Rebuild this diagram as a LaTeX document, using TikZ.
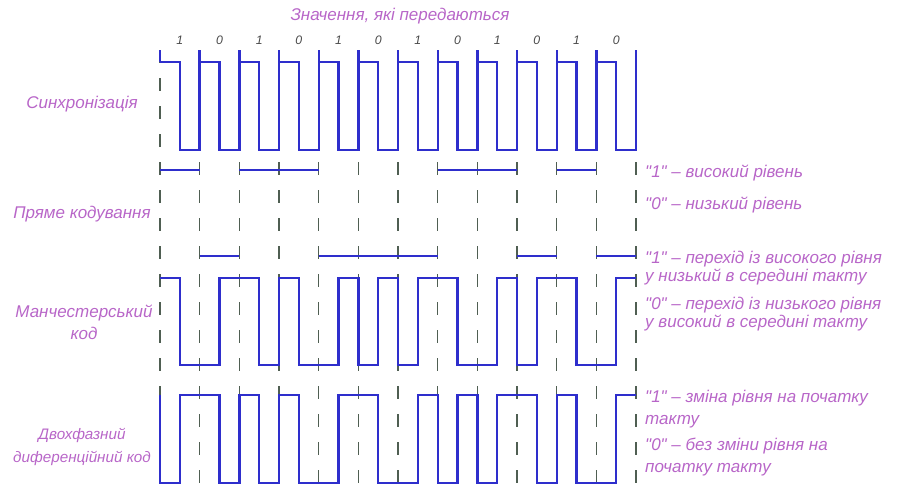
\documentclass[tikz,border=0pt]{standalone}
\usepackage{fontspec}
\setmainfont{Liberation Sans}[Ligatures=TeXOff]
\usetikzlibrary{positioning}
\definecolor{Signal}{HTML}{2E2ECC}
\definecolor{Grid}{HTML}{4F5E52}
\definecolor{Label}{HTML}{B866C8}
\definecolor{Digit}{HTML}{4A4A4A}
\tikzset{
  sig/.style={Signal,line width=2pt,line join=miter},
  grid/.style={Grid,line width=1.3pt,dash pattern=on 4mm off 4.4mm},
  lbl/.style={text=Label,inner sep=0pt,align=center,font=\fontsize{14.5}{19}\selectfont\itshape},
  note/.style={anchor=west,text=Label,inner sep=0pt,align=left,font=\fontsize{14.5}{18.5}\selectfont\itshape},
  bit/.style={text=Digit,inner sep=0pt,font=\fontsize{10.5}{12}\selectfont\itshape}
}

\begin{document}
\begin{tikzpicture}[x=0.3mm,y=-0.3mm]
    \useasboundingbox (0,0) rectangle (901,488);

    \node[lbl] (title) at (400,16) {Значення, які передаються};

    \begin{scope}[xshift=48mm,x=11.9mm]
      % clock boundaries
      \foreach \k in {0,...,12}{\draw[grid] (\k,50) -- (\k,485);}
      \foreach \b [count=\i from 0] in {1,0,1,0,1,0,1,0,1,0,1,0}{\node[bit] (d\i) at (\i+0.5,40) {\b};}

      % synchronisation
      \draw[sig] (0,50) -- (0,62);
      \foreach \k in {0,...,11}{\draw[sig] (\k,62) -- (\k+0.5,62) -- (\k+0.5,150) -- (\k+1,150) -- (\k+1,50);}

      % direct code
      \foreach \b [count=\i from 0] in {1,0,1,1,0,0,0,1,1,0,1,0}{\draw[sig] (\i,{256-86*\b}) -- (\i+1,{256-86*\b});}

      % manchester
      \draw[sig] (0,278) foreach \t/\y in {0.5/365,1.5/278,2.5/365,3/278,3.5/365,4.5/278,5/365,5.5/278,6/365,6.5/278,7.5/365,8.5/278,9/365,9.5/278,10.5/365,11.5/278}{-| (\t,\y)} -- (12,278);

      % differential
      \draw[sig] (0,395) -- (0,483) foreach \t/\y in {0.5/395,1.5/483,2/395,2.5/483,3/395,3.5/483,4.5/395,5.5/483,6.5/395,7/483,7.5/395,8/483,8.5/395,9.5/483,10/395,10.5/483,11.5/395}{-| (\t,\y)} -- (12,395);
    \end{scope}

    \node[lbl] (syncl) at (82,104) {Синхронізація};
    \node[lbl] (nrzl) at (82,214) {Пряме кодування};
    \node[lbl] (manl) at (84,322) {Манчестерський\\код};
    \node[lbl,font=\fontsize{13}{19}\selectfont\itshape] (diffl) at (82,447) {Двохфазний\\диференційний код};

    \node[note] (nrz1) at (645,173) {"1" – високий рівень};
    \node[note] (nrz0) at (645,205) {"0" – низький рівень};
    \node[note,font=\fontsize{14.5}{15.5}\selectfont\itshape] (man1) at (645,268) {"1" – перехід із високого рівня\\у низький в середині такту};
    \node[note,font=\fontsize{14.5}{15.5}\selectfont\itshape] (man0) at (645,314) {"0" – перехід із низького рівня\\у високий в середині такту};
    \node[note] (diff1) at (645,409) {"1" – зміна рівня на початку\\такту};
    \node[note] (diff0) at (645,457) {"0" – без зміни рівня на\\початку такту};
  \end{tikzpicture}
\end{document}
